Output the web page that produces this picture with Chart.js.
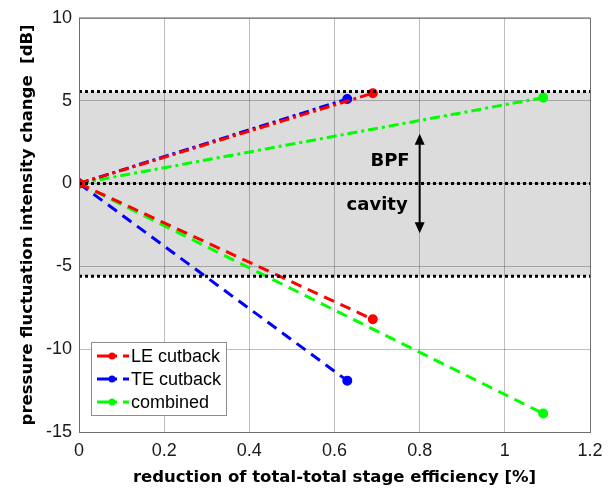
<!DOCTYPE html>
<html>
<head>
<meta charset="utf-8">
<script src="https://cdn.jsdelivr.net/npm/chart.js@4.4.1/dist/chart.umd.min.js"></script>
<style>
  html, body { margin: 0; padding: 0; background: #fff; }
  #wrap { width: 616px; height: 492px; }
</style>
</head>
<body>
<div id="wrap"><canvas id="chart" width="616" height="492"></canvas></div>
<script>
// values
const seriesNames = ['LE cutback', 'TE cutback', 'combined'];
const seriesColors = ['#ff0000', '#0000ff', '#00ff00'];
const effReduction = [0.69, 0.63, 1.09];     // x of end point [%]
const bpfChange = [5.45, 5.1, 5.18];         // upper branch [dB]
const cavityChange = [-8.2, -11.9, -13.88];  // lower branch [dB]
const bandLimits = [5.55, 0, -5.6];          // dotted reference lines
const xTicks = [0, 0.2, 0.4, 0.6, 0.8, 1, 1.2];
const yTicks = [-15, -10, -5, 0, 5, 10];
const arrowRange = [3, -3];                  // BPF / cavity arrow at x = 0.8
const arrowX = 0.8;

const datasets = [];
seriesNames.forEach((name, i) => {
  datasets.push({
    label: name + ' BPF',
    data: [{x: 0, y: 0}, {x: effReduction[i], y: bpfChange[i]}],
    borderColor: seriesColors[i], backgroundColor: seriesColors[i],
    borderWidth: 3, borderDash: [10, 4, 3, 4], pointRadius: 3.5, showLine: true
  });
  datasets.push({
    label: name + ' cavity',
    data: [{x: 0, y: 0}, {x: effReduction[i], y: cavityChange[i]}],
    borderColor: seriesColors[i], backgroundColor: seriesColors[i],
    borderWidth: 3, borderDash: [11, 7], pointRadius: 3.5, showLine: true
  });
});
bandLimits.forEach(v => {
  datasets.unshift({
    label: 'ref ' + v,
    data: [{x: 0, y: v}, {x: 1.2, y: v}],
    borderColor: '#000', borderWidth: 3, borderDash: [3, 3],
    pointRadius: 0, showLine: true
  });
});

// grey band behind the grid
const bandPlugin = {
  id: 'band',
  beforeDraw(chart) {
    const {ctx, chartArea: a, scales: {y}} = chart;
    const top = y.getPixelForValue(bandLimits[0]);
    const bot = y.getPixelForValue(bandLimits[2]);
    ctx.save();
    ctx.fillStyle = '#dcdcdc';
    ctx.fillRect(a.left, top, a.right - a.left, bot - top);
    ctx.restore();
  }
};

// box, arrow, labels and legend
const overlayPlugin = {
  id: 'overlay',
  afterDraw(chart) {
    const {ctx, chartArea: a, scales: {x, y}} = chart;
    ctx.save();
    ctx.strokeStyle = '#6e6e6e';
    ctx.lineWidth = 1;
    ctx.strokeRect(a.left + 0.5, a.top + 0.5, a.right - a.left, a.bottom - a.top);

    // arrow
    const ax = x.getPixelForValue(arrowX);
    const y1 = y.getPixelForValue(arrowRange[0]);
    const y2 = y.getPixelForValue(arrowRange[1]);
    ctx.strokeStyle = '#000';
    ctx.fillStyle = '#000';
    ctx.lineWidth = 2;
    ctx.beginPath();
    ctx.moveTo(ax, y1 + 6);
    ctx.lineTo(ax, y2 - 6);
    ctx.stroke();
    ctx.beginPath();
    ctx.moveTo(ax, y1); ctx.lineTo(ax - 5, y1 + 11); ctx.lineTo(ax + 5, y1 + 11); ctx.closePath();
    ctx.fill();
    ctx.beginPath();
    ctx.moveTo(ax, y2); ctx.lineTo(ax - 5, y2 - 11); ctx.lineTo(ax + 5, y2 - 11); ctx.closePath();
    ctx.fill();

    ctx.font = 'bold 18px "DejaVu Sans"';
    ctx.textAlign = 'right';
    ctx.textBaseline = 'middle';
    ctx.fillText('BPF', ax - 10, y.getPixelForValue(1.33));
    ctx.fillText('cavity', ax - 12, y.getPixelForValue(-1.33));

    // legend
    const lx = 91, ly = 342, lw = 135, lh = 73;
    ctx.fillStyle = '#fff';
    ctx.fillRect(lx, ly, lw, lh);
    ctx.strokeStyle = '#8c8c8c';
    ctx.lineWidth = 1;
    ctx.strokeRect(lx + 0.5, ly + 0.5, lw, lh);
    ctx.font = '18px "Liberation Sans"';
    ctx.textAlign = 'left';
    seriesNames.forEach((name, i) => {
      const ry = ly + 14 + i * 23;
      ctx.strokeStyle = seriesColors[i];
      ctx.fillStyle = seriesColors[i];
      ctx.lineWidth = 3;
      ctx.beginPath();
      ctx.moveTo(lx + 6, ry); ctx.lineTo(lx + 26, ry);
      ctx.moveTo(lx + 32, ry); ctx.lineTo(lx + 38, ry);
      ctx.stroke();
      ctx.beginPath();
      ctx.arc(lx + 21, ry, 3.5, 0, Math.PI * 2);
      ctx.fill();
      ctx.fillStyle = '#000';
      ctx.fillText(name, lx + 40, ry + 1);
    });
    ctx.restore();
  }
};

const titleFont = {family: '"DejaVu Sans"', size: 16.5, weight: 'bold'};
const tickFont = {family: '"Liberation Sans"', size: 18};

new Chart(document.getElementById('chart'), {
  type: 'scatter',
  data: {datasets},
  options: {
    responsive: false,
    animation: false,
    layout: {padding: {top: 17, right: 26, left: 0, bottom: 0}},
    plugins: {legend: {display: false}, tooltip: {enabled: false}},
    scales: {
      x: {
        min: 0, max: 1.2,
        afterBuildTicks: s => { s.ticks = xTicks.map(v => ({value: v})); },
        afterFit: s => { s.height = 60; },
        ticks: {font: tickFont, color: '#1a1a1a', padding: 8,
                callback: v => String(+v.toFixed(1))},
        grid: {color: 'rgba(0,0,0,0.25)', drawTicks: false},
        border: {display: false},
        title: {display: true, text: 'reduction of total-total stage efficiency [%]',
                font: titleFont, color: '#000', padding: {top: 0, bottom: 4}}
      },
      y: {
        min: -15, max: 10,
        afterBuildTicks: s => { s.ticks = yTicks.map(v => ({value: v})); },
        afterFit: s => { s.width = 79; },
        ticks: {font: tickFont, color: '#1a1a1a', padding: 7},
        grid: {color: 'rgba(0,0,0,0.25)', drawTicks: false},
        border: {display: false},
        title: {display: true, text: 'pressure fluctuation intensity change  [dB]',
                font: titleFont, color: '#000', padding: {top: 18, bottom: 0}}
      }
    }
  },
  plugins: [bandPlugin, overlayPlugin]
});
</script>
</body>
</html>
